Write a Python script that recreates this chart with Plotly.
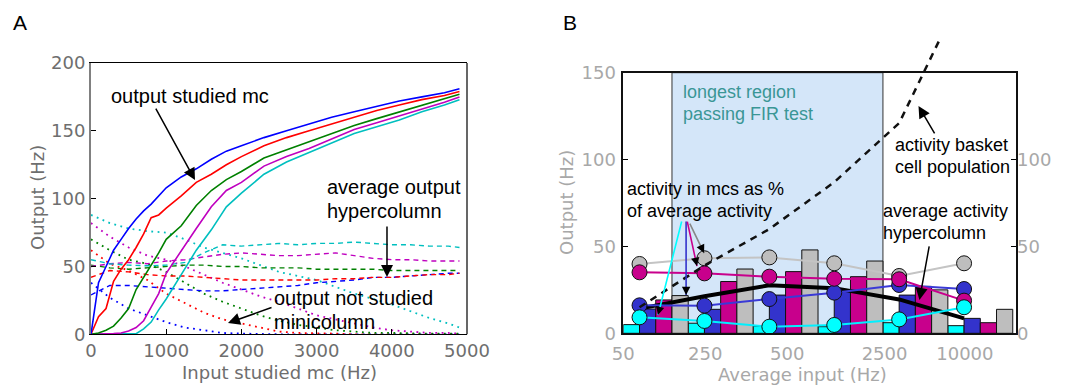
import plotly.graph_objects as go

W, H = 1071, 385

# ---------------- Panel A data ----------------
input_hz = [0, 100, 200, 300, 400, 500, 600, 700, 800, 900, 1000, 1200, 1400, 1600,
            1800, 2000, 2300, 2600, 2900, 3200, 3500, 3800, 4100, 4400, 4700, 4900]
studied_blue = [0, 38, 50, 62, 70, 78, 85, 91, 96, 102, 108, 116, 122, 129, 135, 139,
                145, 150, 155, 160, 164, 168, 172, 175, 178, 181]
studied_red = [0, 13, 19, 39, 48, 55, 64, 74, 86, 88, 93, 102, 112, 118, 125, 131,
               139, 145, 150, 155, 160, 165, 169, 173, 176, 179]
studied_green = [0, 1, 3, 6, 12, 19, 33, 42, 50, 60, 70, 80, 95, 106, 114, 120,
                 130, 136, 142, 148, 154, 159, 164, 169, 174, 177]
studied_magenta = [0, 0, 0, 0.5, 1, 2.5, 5, 10, 20, 30, 45, 62, 78, 94, 106, 112,
                   124, 131, 137, 144, 151, 156, 161, 166, 171, 175]
studied_cyan = [0, 0, 0, 0, 0, 0, 0.5, 4, 9, 18, 26, 44, 62, 77, 94, 104,
                118, 127, 134, 141, 148, 153, 158, 164, 169, 173]

other_hz = [0, 250, 500, 750, 1000, 1250, 1500, 1750, 2000, 2250, 2500, 2750, 3000,
            3250, 3500, 3750, 4000, 4250, 4500, 4750, 4900]
avg_cyan = [55, 52, 51, 50.5, 51, 53, 60, 66, 65, 66, 67, 66, 67, 67, 68, 67, 66, 66, 65, 65, 64]
avg_magenta = [50, 52, 53, 52, 54, 55, 57, 59, 60, 59, 58, 58, 59, 60, 58, 56, 55, 55, 54, 54, 54]
avg_green = [51, 49, 48, 49, 50, 51, 51, 50, 50, 49, 49, 49, 48, 48, 48, 48, 47, 47, 47, 47, 47]
avg_red = [42, 47, 46, 44, 43, 43, 42, 41, 40, 40, 40, 40, 40, 41, 41, 42, 42, 43, 44, 44, 45]
avg_blue = [29, 36, 36, 35, 34, 33, 32, 32, 33, 34, 35, 36, 38, 39, 40, 42, 42, 43, 44, 45, 45]

other_cyan = [88, 82, 78, 76, 75, 70, 64, 60, 56, 51, 46, 43, 40, 35, 30, 26, 22, 17, 12, 8, 5]
other_magenta = [82, 72, 64, 58, 55, 50, 44, 38, 33, 28, 24, 19, 14, 11, 8, 5, 3, 2, 1, 1, 0.5]
other_green = [70, 62, 55, 52, 46, 38, 30, 24, 19, 14, 10, 7, 5, 3, 2, 1, 1, 0.5, 0.5, 0.5, 0.5]
other_red = [62, 52, 47, 40, 30, 23, 16, 11, 8, 5, 2, 1, 1, 0.5, 0, 0, 0, 0, 0, 0, 0]
other_blue = [38, 27, 19, 14, 9, 5, 3, 1, 0.5, 0, 0, 0, 0, 0, 0, 0, 0, 0, 0, 0, 0]

# ---------------- Panel B data ----------------
input_labels = ["50", "250", "500", "2500", "10000"]
input_label_pos = [0, 5.05, 10.1, 16.1, 21.05]
n_groups = 6
bars_cyan = [5, 5.8, 4.2, 3.8, 6.1, 4.4]
bars_blue = [14, 13.8, 22, 24.5, 22, 8.6]
bars_magenta = [19.2, 29.8, 35.5, 32.6, 27, 6.1]
bars_gray = [21.7, 37, 48, 41.6, 25, 13.8]

pct_gray = [39.9, 43.2, 43.7, 40.3, 33, 40.3]
pct_magenta = [35.1, 34.5, 32.6, 31.4, 31.1, 18.8]
pct_blue = [16.1, 15.9, 19.7, 23.4, 27.8, 25.5]
pct_cyan = [9.2, 7.1, 3.8, 4.8, 8, 15]
avg_hypercolumn = [14.2, 21.3, 27.6, 26, 19.5, 8.6]
basket_activity = [15, 39, 60, 87, 121, 198]
fir_region = [3, 16]

# ---------------- colours / fonts ----------------
MPL = {"blue": "#0000ff", "red": "#ff0000", "green": "#008000",
       "magenta": "#bf00bf", "cyan": "#00bfbf"}
B_COL = {"cyan": "#00ffff", "blue": "#3333cc", "magenta": "#c8008c", "gray": "#bebebe"}
TICK_FONT = "DejaVu Sans"
TEXT_FONT = "Liberation Sans, Arial, sans-serif"
A_GRAY = "#6e6e6e"
B_GRAY = "#a8a8a8"

fig = go.Figure()

# ---- Panel A traces ----
for vals, c in [(other_blue, "blue"), (other_red, "red"), (other_green, "green"),
                (other_magenta, "magenta"), (other_cyan, "cyan")]:
    fig.add_trace(go.Scatter(x=other_hz, y=vals, mode="lines", xaxis="x", yaxis="y",
                             line=dict(color=MPL[c], width=1.8, dash="1.8px,4.5px"),
                             showlegend=False, hoverinfo="skip"))
for vals, c in [(avg_blue, "blue"), (avg_red, "red"), (avg_green, "green"),
                (avg_magenta, "magenta"), (avg_cyan, "cyan")]:
    fig.add_trace(go.Scatter(x=other_hz, y=vals, mode="lines", xaxis="x", yaxis="y",
                             line=dict(color=MPL[c], width=1.4, dash="5px,4px"),
                             showlegend=False, hoverinfo="skip"))
for vals, c in [(studied_cyan, "cyan"), (studied_magenta, "magenta"),
                (studied_green, "green"), (studied_red, "red"), (studied_blue, "blue")]:
    fig.add_trace(go.Scatter(x=input_hz, y=vals, mode="lines", xaxis="x", yaxis="y",
                             line=dict(color=MPL[c], width=1.6),
                             showlegend=False, hoverinfo="skip"))

# ---- Panel B bars ----
for j, (vals, c) in enumerate([(bars_cyan, "cyan"), (bars_blue, "blue"),
                               (bars_magenta, "magenta"), (bars_gray, "gray")]):
    fig.add_trace(go.Bar(x=[4 * k + j + 0.5 for k in range(n_groups)], y=vals, width=1,
                         xaxis="x2", yaxis="y2", marker=dict(color=B_COL[c],
                         line=dict(color="#111111", width=1)),
                         showlegend=False, hoverinfo="skip"))

group_pos = [4 * k + 1 for k in range(n_groups)]
fig.add_trace(go.Scatter(x=group_pos, y=avg_hypercolumn, mode="lines", xaxis="x2", yaxis="y2",
                         line=dict(color="black", width=4), showlegend=False, hoverinfo="skip"))

for vals, c, lc in [(pct_blue, "blue", "#3a3ad6"), (pct_gray, "gray", "#c4c4c4"),
                    (pct_magenta, "magenta", "#c8008c"), (pct_cyan, "cyan", "#00f0ff")]:
    fig.add_trace(go.Scatter(x=group_pos, y=vals, mode="lines+markers", xaxis="x2", yaxis="y4",
                             line=dict(color=lc, width=2),
                             marker=dict(size=15, color=B_COL[c], line=dict(color="#111111", width=1)),
                             showlegend=False, hoverinfo="skip"))

fig.add_trace(go.Scatter(x=group_pos, y=basket_activity, mode="lines", xaxis="x3", yaxis="y3",
                         line=dict(color="#111111", width=2.5, dash="7px,6px"),
                         showlegend=False, hoverinfo="skip"))

# ---------------- layout ----------------
a_dom_x = [91 / W, 467 / W]
a_dom_y = [1 - 334.3 / H, 1 - 63 / H]
b_dom_x = [623.3 / W, 1016 / W]
b_bottom, b_top, b_ext = 333.3, 72.7, 38
b_dom_y = [1 - b_bottom / H, 1 - b_top / H]
b_ext_dom_y = [1 - b_bottom / H, 1 - b_ext / H]
b_ymax = 150
b_ext_ymax = b_ymax * (b_bottom - b_ext) / (b_bottom - b_top)
b_xmax = 24.2

tick_a = dict(family=TICK_FONT, size=18, color=A_GRAY)
tick_b = dict(family=TICK_FONT, size=18, color=B_GRAY)
common = dict(showgrid=False, zeroline=False, automargin=False)

fig.update_layout(
    width=W, height=H, margin=dict(l=0, r=0, t=0, b=0, pad=0, autoexpand=False),
    paper_bgcolor="white", plot_bgcolor="rgba(0,0,0,0)",
    barmode="overlay", showlegend=False,
    xaxis=dict(domain=a_dom_x, anchor="y", range=[0, 5000], tickvals=[0, 1000, 2000, 3000, 4000, 5000],
               ticks="inside", ticklen=5, tickcolor="black", showline=True, linecolor="black",
               linewidth=1.2, mirror=True, tickfont=tick_a, **common),
    yaxis=dict(domain=a_dom_y, anchor="x", range=[0, 200], tickvals=[0, 50, 100, 150, 200],
               ticks="inside", ticklen=5, tickcolor="black", showline=True, linecolor="#808080",
               linewidth=2, tickfont=tick_a, **common),
    xaxis2=dict(domain=b_dom_x, anchor="y2", range=[0, b_xmax], tickvals=input_label_pos,
                ticktext=input_labels, ticks="", showline=True, linecolor="#111111", linewidth=1.5,
                mirror=True, tickfont=tick_b, ticklabelstandoff=3, **common),
    yaxis2=dict(domain=b_dom_y, anchor="x2", range=[0, b_ymax], tickvals=[0, 50, 100, 150],
                ticks="inside", ticklen=5, tickcolor="black", showline=True, linecolor="#111111",
                linewidth=1.5, mirror=True, tickfont=tick_b, ticklabelstandoff=2, **common),
    yaxis4=dict(overlaying="y2", side="right", anchor="x2", range=[0, b_ymax], tickvals=[0, 50, 100],
                ticks="inside", ticklen=5, tickcolor="black", showline=False, tickfont=tick_b,
                **common),
    xaxis3=dict(domain=b_dom_x, anchor="y3", range=[0, b_xmax], visible=False, **common),
    yaxis3=dict(domain=b_ext_dom_y, anchor="x3", range=[0, b_ext_ymax], visible=False, **common),
)

# right spine of panel A, FIR-test region of panel B
fig.add_shape(type="line", xref="x domain", yref="y domain", x0=1, x1=1, y0=0, y1=1,
              line=dict(color="black", width=1.2))
fig.add_shape(type="rect", xref="x2", yref="y2", x0=fir_region[0], x1=fir_region[1], y0=0, y1=b_ymax,
              fillcolor="#d4e6f9", line=dict(color="#333333", width=1), layer="below")


def text(px, py, s, size=20, color="black", font=TEXT_FONT, angle=0, anchor="left"):
    fig.add_annotation(x=px / W, y=1 - py / H, xref="paper", yref="paper", text=s,
                       showarrow=False, xanchor=anchor, yanchor="middle", textangle=angle,
                       font=dict(family=font, size=size, color=color))


def arrow(xr, yr, x, y, ax, ay, color="black", width=1.5, head=2, size=1.6):
    fig.add_annotation(x=x, y=y, xref=xr, yref=yr, ax=ax, ay=ay, text="", showarrow=True,
                       arrowhead=head, arrowsize=size, arrowwidth=width, arrowcolor=color,
                       standoff=0)


# panel letters
text(11, 22, "A", size=21)
text(561, 22, "B", size=21)

# axis titles
text(38, 198, "Output (Hz)", size=18, color=A_GRAY, font=TICK_FONT, angle=-90, anchor="center")
text(279, 372, "Input studied mc (Hz)", size=18, color=A_GRAY, font=TICK_FONT, anchor="center")
text(567, 203, "Output (Hz)", size=18, color=B_GRAY, font=TICK_FONT, angle=-90, anchor="center")
text(802, 374, "Average input (Hz)", size=18, color=B_GRAY, font=TICK_FONT, anchor="center")

# panel A annotations
text(109, 96, "output studied mc")
arrow("x", "y", 1383, 113.7, -40, -73)
text(325, 187, "average output")
text(325, 211, "hypercolumn")
arrow("x", "y", 3936, 42.2, 0, -52)
text(272, 298, "output not studied")
text(272, 322, "minicolumn")
arrow("x", "y", 1822, 8.3, 45, -16)

# panel B annotations
text(681, 92, "longest region", size=18, color="#3a9696")
text(681, 114, "passing FIR test", size=18, color="#3a9696")
text(893, 145, "activity basket", size=18)
text(893, 167, "cell population", size=18)
arrow("x2", "y2", 18.19, 130.9, 17, 29)
text(625, 189, "activity in mcs as %", size=18)
text(625, 211, "of average activity", size=18)
text(881, 211, "average activity", size=18)
text(881, 233, "hypercolumn", size=18)
arrow("x2", "y2", 18.25, 19.2, 10, -55)

# coloured pointers from the "% of average activity" label, with black heads
for x, y, ax, ay, col in [(2.14, 10.5, 24, -95, "#00ffff"), (3.87, 22.0, 0, -75, "#3333cc"),
                          (4.54, 38.7, -10, -46, "#c8008c"), (4.98, 46.2, -15, -31, "#888888")]:
    arrow("x2", "y2", x, y, ax, ay, color=col, width=1.6, head=0, size=1)
    d = (ax * ax + ay * ay) ** 0.5
    arrow("x2", "y2", x, y, ax / d * 9, ay / d * 9, color="black", width=1.2, head=2, size=1.4)

fig.write_html("out.html")
